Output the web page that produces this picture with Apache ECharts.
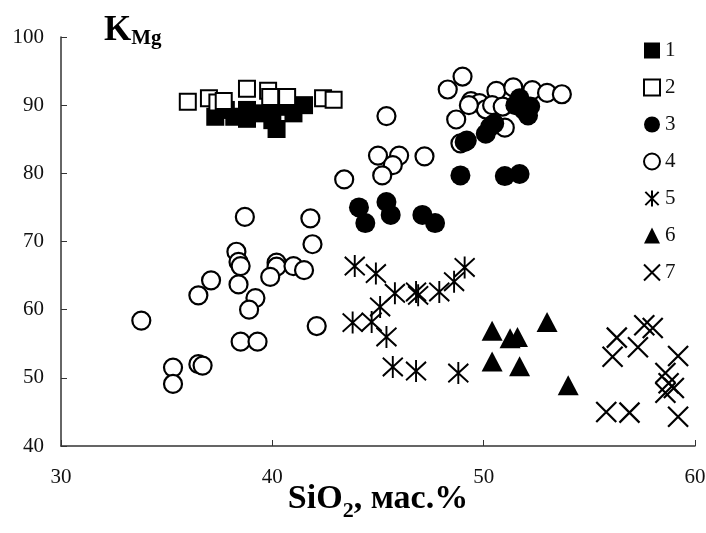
<!DOCTYPE html>
<html>
<head>
<meta charset="utf-8">
<script src="https://cdn.jsdelivr.net/npm/echarts@6/dist/echarts.min.js"></script>
<style>html,body{margin:0;padding:0;background:#fff}#c{width:706px;height:533px}</style>
</head>
<body>
<div id="c"></div>
<script>
const seriesNames = ['1','2','3','4','5','6','7'];
const xTicks = [30, 40, 50, 60];
const yTicks = [40, 50, 60, 70, 80, 90, 100];
const s1 = [[37.3,88.3],[37.8,89.3],[38.2,88.3],[38.8,89.3],[38.8,88.0],[39.4,88.8],[40.0,87.8],[40.2,86.5],[40.2,89.8],[40.7,89.8],[41.0,88.8],[41.5,90.0]];
const s2 = [[36.0,90.5],[37.0,91.0],[37.4,90.4],[37.7,90.6],[38.8,92.4],[39.8,92.1],[39.9,91.2],[40.7,91.2],[42.4,91.0],[42.9,90.8]];
const s3 = [[44.1,75.0],[44.4,72.7],[45.4,75.8],[45.6,73.9],[47.1,73.9],[47.7,72.7],[48.9,79.7],[51.0,79.6],[51.7,79.9],[49.1,84.6],[49.2,84.8],[50.1,85.8],[50.3,86.8],[50.5,87.3],[51.5,90.0],[51.7,91.0],[51.9,89.3],[52.2,89.8],[52.1,88.5]];
const s4 = [[38.7,73.6],[41.8,73.4],[41.9,69.6],[38.3,68.5],[38.4,67.0],[38.5,66.4],[40.2,66.9],[40.2,66.3],[41.0,66.4],[41.5,65.8],[39.9,64.8],[37.1,64.3],[38.4,63.7],[36.5,62.1],[39.2,61.7],[38.9,60.0],[33.8,58.4],[42.1,57.6],[38.5,55.3],[39.3,55.3],[35.3,51.5],[35.3,49.1],[36.5,52.0],[36.7,51.8],
  [43.4,79.1],[45.0,82.6],[46.0,82.6],[47.2,82.5],[45.7,81.2],[45.2,79.7],[45.4,88.4],[48.7,87.9],[48.9,84.4],
  [49.0,94.2],[48.3,92.3],[50.6,92.1],[51.4,92.6],[52.3,92.2],[53.0,91.8],[53.7,91.6],[49.4,90.6],[49.8,90.3],[50.1,89.4],[50.4,90.0],[50.9,89.8],[51.0,86.7],[49.3,90.0]];
const s5 = [[43.9,66.4],[44.9,65.3],[45.8,62.4],[46.8,62.6],[46.9,62.1],[47.9,62.6],[48.6,64.1],[49.1,66.2],[45.1,60.4],[43.8,58.1],[44.7,58.2],[45.4,56.0],[45.7,51.6],[46.8,51.0],[48.8,50.7]];
const s6 = [[50.4,56.9],[51.25,55.8],[51.6,56.0],[53.0,58.2],[50.4,52.4],[51.7,51.7],[54.0,48.9]];
const s7 = [[56.3,55.9],[56.1,53.1],[57.3,54.5],[57.6,57.7],[58.0,57.3],[59.2,53.2],[58.6,50.7],[58.75,49.2],[58.6,47.8],[59.0,48.5],[55.8,45.0],[56.9,44.9],[59.2,44.3]];

const FONT = 'Liberation Serif';
const INK = '#000';
const ASTER = 'path://M0,0L10,10M10,0L0,10M5,-1L5,11';
const CROSS = 'path://M0,0L10,10M10,0L0,10';

function sc(name, data, symbol, size, style, z) {
  return {
    type: 'scatter', name: name, data: data, symbol: symbol, symbolSize: size,
    itemStyle: Object.assign({ opacity: 1 }, style), z: z, silent: true,
    emphasis: { disabled: true }
  };
}

const chart = echarts.init(document.getElementById('c'), null, { renderer: 'canvas' });
chart.setOption({
  animation: false,
  backgroundColor: '#fff',
  grid: { left: 61, right: 11, top: 37, bottom: 87, outerBoundsMode: 'none' },
  xAxis: {
    type: 'value', min: xTicks[0], max: xTicks[xTicks.length - 1], interval: 10,
    axisLine: { show: true, onZero: false, lineStyle: { color: '#333', width: 1.5 } },
    axisTick: { show: true, inside: true, length: 6, lineStyle: { color: '#333' } },
    splitLine: { show: false },
    axisLabel: { margin: 21, fontSize: 21, fontFamily: FONT, color: '#111' }
  },
  yAxis: {
    type: 'value', min: yTicks[0], max: yTicks[yTicks.length - 1], interval: 10,
    axisLine: { show: true, onZero: false, lineStyle: { color: '#333', width: 1.5 } },
    axisTick: { show: true, inside: true, length: 6, lineStyle: { color: '#333' } },
    splitLine: { show: false },
    axisLabel: { margin: 17, fontSize: 21, fontFamily: FONT, color: '#111' }
  },
  legend: {
    orient: 'vertical', left: 643, top: 40, padding: 0,
    itemWidth: 16, itemHeight: 16, itemGap: 16,
    data: seriesNames,
    textStyle: { fontSize: 21, fontFamily: FONT, color: '#111', padding: [0, 0, 0, 0] },
    selectedMode: false
  },
  series: [
    sc(seriesNames[0], s1, 'rect', 18, { color: INK }, 2),
    sc(seriesNames[1], s2, 'rect', 16, { color: '#fff', borderColor: INK, borderWidth: 2 }, 3),
    sc(seriesNames[2], s3, 'circle', 20, { color: INK }, 3),
    sc(seriesNames[3], s4, 'circle', 18, { color: '#fff', borderColor: INK, borderWidth: 2.2 }, 2),
    sc(seriesNames[4], s5, ASTER, [20, 22], { color: 'rgba(0,0,0,0)', borderColor: INK, borderWidth: 2 }, 2),
    sc(seriesNames[5], s6, 'triangle', [21, 20], { color: INK }, 2),
    sc(seriesNames[6], s7, CROSS, [20, 20], { color: 'rgba(0,0,0,0)', borderColor: INK, borderWidth: 2.2 }, 2)
  ],
  graphic: [
    {
      type: 'text', x: 104, y: 13, silent: true,
      style: {
        text: '{k|K}{s|Mg}',
        rich: {
          k: { fontSize: 35, fontWeight: 'bold', fontFamily: FONT, fill: INK, verticalAlign: 'top', lineHeight: 38 },
          s: { fontSize: 21, fontWeight: 'bold', fontFamily: FONT, fill: INK, verticalAlign: 'top', lineHeight: 22, padding: [15, 0, 0, 0] }
        }
      }
    },
    {
      type: 'text', x: 378, y: 482, silent: true,
      style: {
        text: '{a|SiO}{b|2}{a|, мас.%}',
        align: 'center',
        rich: {
          a: { fontSize: 34, fontWeight: 'bold', fontFamily: FONT, fill: INK, verticalAlign: 'top', lineHeight: 37 },
          b: { fontSize: 22, fontWeight: 'bold', fontFamily: FONT, fill: INK, verticalAlign: 'top', lineHeight: 22, padding: [18, 0, 0, 0] }
        }
      }
    }
  ]
});
</script>
</body>
</html>
